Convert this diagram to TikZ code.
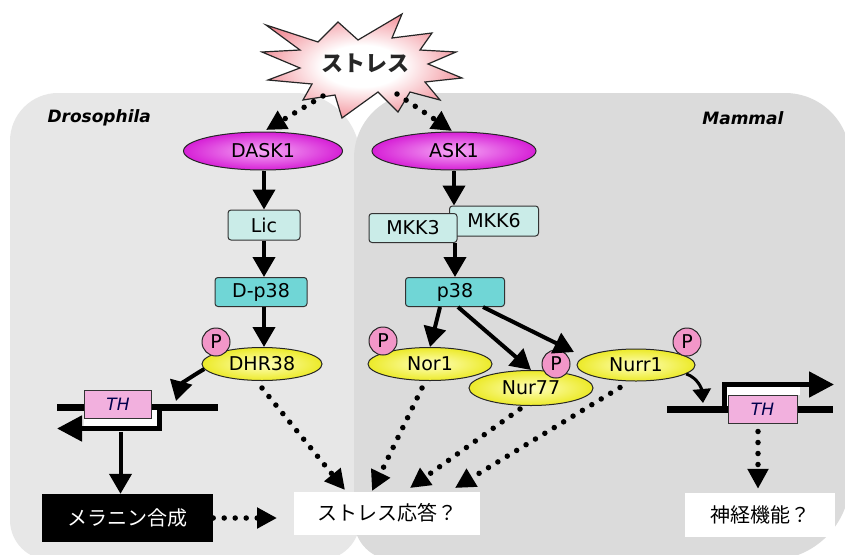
\documentclass[tikz,border=0pt]{standalone}
\usepackage{fontspec}
\setmainfont{DejaVu Sans}
\newfontfamily\cjk{Noto Sans CJK JP}
\usetikzlibrary{arrows.meta,shapes.geometric}
\definecolor{lpanel}{RGB}{231,231,231}
\definecolor{rpanel}{RGB}{219,219,219}
\definecolor{magout}{RGB}{214,32,214}
\definecolor{magin}{RGB}{246,170,246}
\definecolor{yelout}{RGB}{236,234,40}
\definecolor{yelin}{RGB}{255,255,190}
\definecolor{cyanlight}{RGB}{202,236,232}
\definecolor{cyandark}{RGB}{112,214,214}
\definecolor{pinkP}{RGB}{242,150,200}
\definecolor{pinkTH}{RGB}{242,176,222}
\definecolor{starpink}{RGB}{244,160,168}
\definecolor{starred}{RGB}{226,50,62}
\pgfdeclareradialshading{starshade}{\pgfpoint{0bp}{0bp}}{color(0bp)=(white); color(10bp)=(white); color(24bp)=(starpink); color(42bp)=(starred); color(50bp)=(starred)}
\begin{document}
\begin{tikzpicture}[x=1pt,y=-1pt,
  lab/.style={font=\fontsize{19pt}{22pt}\selectfont},
  ell/.style={ellipse, draw=black!85, line width=1pt, inner sep=0pt, lab},
  magell/.style={ell, inner color=magin, outer color=magout},
  yelell/.style={ell, inner color=yelin, outer color=yelout},
  kbox/.style={rectangle, rounded corners=3pt, draw=black!80, line width=1pt, inner sep=0pt, lab},
  lbox/.style={kbox, fill=cyanlight},
  dbox/.style={kbox, fill=cyandark},
  pcirc/.style={circle, draw=black!85, line width=1pt, fill=pinkP, minimum size=28pt, inner sep=0pt, font=\fontsize{19pt}{20pt}\selectfont},
  thbox/.style={rectangle, draw=black!80, line width=1pt, fill=pinkTH, inner sep=0pt, font=\itshape\fontsize{17pt}{19pt}\selectfont, text=black!70!blue},
  jbox/.style={rectangle, inner sep=0pt, font=\cjk\fontsize{20pt}{24pt}\selectfont},
  sarr/.style={line width=4pt, -{Triangle[length=20pt,width=22pt]}},
  smallarr/.style={line width=3pt, -{Triangle[length=14pt,width=18pt]}},
  darr/.style={line width=5.5pt, line cap=round, dash pattern=on 0pt off 11pt, -{Triangle[length=20pt,width=20pt]}},
  gene/.style={line width=7pt},
  bent/.style={line width=5pt, -{Triangle[length=25pt,width=25pt]}},
  ttl/.style={font=\bfseries\itshape\fontsize{17pt}{20pt}\selectfont},
]
\useasboundingbox (0,0) rectangle (845,554);
\fill[white] (0,0) rectangle (845,554);
\clip (0,0) rectangle (845,554);

% panels
\fill[lpanel] (10,141) arc[start angle=180,end angle=270,radius=48] -- (295,93)
  arc[start angle=270,end angle=360,radius=65] -- (360,520)
  arc[start angle=0,end angle=90,radius=40] -- (50,560)
  arc[start angle=90,end angle=180,radius=40] -- cycle;
\fill[rpanel] (354,158) arc[start angle=180,end angle=270,radius=65] -- (785,93)
  arc[start angle=270,end angle=360,radius=65] -- (850,480)
  arc[start angle=0,end angle=90,radius=80] -- (394,560)
  arc[start angle=90,end angle=180,radius=40] -- cycle;

\node[ttl, anchor=west] (dros) at (44,118) {Drosophila};
\node[ttl, anchor=east] (mam) at (787,118) {Mammal};

% star
\path[draw=black!85, line width=1.2pt, shading=starshade]
  (266,25) -- (318,42) -- (338,22) -- (358,40) -- (402,14) -- (392,38) -- (432,33)
  -- (420,50) -- (456,52) -- (428,64) -- (462,78) -- (425,82) -- (440,100)
  -- (410,92) -- (398,112) -- (378,92) -- (342,118) -- (335,95) -- (303,100)
  -- (312,84) -- (268,80) -- (300,68) -- (262,52) -- (300,50) -- cycle;
\node[font=\cjk\bfseries\fontsize{22pt}{24pt}\selectfont, text=black!85] (stress) at (365,63) {ストレス};
\coordinate (s1) at (323,96);
\coordinate (s2) at (397,94);

% nodes
\node[magell, minimum width=159pt, minimum height=38pt] (dask) at (263,151) {DASK1};
\node[magell, minimum width=164pt, minimum height=38pt] (ask) at (454,151) {ASK1};
\node[lbox, minimum width=72pt, minimum height=30pt] (lic) at (264,225) {Lic};
\node[lbox, minimum width=89pt, minimum height=30pt] (mkk6) at (494,221) {MKK6};
\node[lbox, minimum width=88pt, minimum height=29pt] (mkk3) at (413,228) {MKK3};
\node[dbox, minimum width=92pt, minimum height=29pt] (dp38) at (261,292) {D-p38};
\node[dbox, minimum width=99pt, minimum height=29pt] (p38) at (455,292) {p38};
\node[yelell, minimum width=120pt, minimum height=33pt] (dhr) at (262,364) {DHR38};
\node[yelell, minimum width=124pt, minimum height=33pt] (nor) at (430,364) {Nor1};
\node[yelell, minimum width=118pt, minimum height=32pt] (nurr) at (636,365) {Nurr1};
\node[yelell, minimum width=124pt, minimum height=35pt] (nur) at (531,388) {Nur77};
\node[pcirc] (pd) at (216,342) {P};
\node[pcirc] (pn) at (383,341) {P};
\node[pcirc] (p77) at (556,364) {P};
\node[pcirc] (pr) at (687,342) {P};

% genes
\draw[gene] (57,407) -- (218,407);
\fill[white] (84,418) rectangle (157,426);
\fill[white] (152,410) rectangle (157,418);
\node[thbox, minimum width=67pt, minimum height=28pt] (thl) at (118,404) {TH};
\draw[bent] (159.5,410) -- (159.5,428.5) -- (57,428.5);

\draw[gene] (667,409.5) -- (833,409.5);
\fill[white] (727,387) rectangle (800,395);
\fill[white] (727,387) rectangle (731,406);
\node[thbox, minimum width=69pt, minimum height=28pt] (thr) at (762.5,409) {TH};
\draw[bent] (724.5,410) -- (724.5,384.5) -- (834,384.5);

% bottom boxes
\node[jbox, fill=black, text=white, minimum width=171pt, minimum height=48pt] (mel) at (127.5,518) {メラニン合成};
\node[jbox, fill=white, minimum width=186pt, minimum height=43pt] (sr) at (387,513) {ストレス応答？};
\node[jbox, fill=white, minimum width=150pt, minimum height=44pt] (nf) at (760,515) {神経機能？};

% coordinates for free ends
\coordinate (dtip) at (266,130);
\coordinate (atip) at (452,131);
\coordinate (nurrtip) at (574,352);
\coordinate (dhrtip) at (176,401);
\coordinate (thrtip) at (703,403);
\coordinate (srin) at (277,518);
\coordinate (t1) at (345,490);
\coordinate (t2) at (372,491);
\coordinate (t3) at (410,488);
\coordinate (t4) at (455,488);

% solid arrows
\draw[sarr] (dask.south -| lic.south) -- (lic.north);
\draw[sarr] (lic.south) -- (lic.south |- dp38.north);
\draw[sarr] (dp38.south -| lic.south) -- (dhr.north -| lic.south);
\draw[sarr] (ask.south) -- (ask.south |- mkk6.north);
\draw[sarr] (p38.north |- mkk3.south) -- (p38.north);
\draw[sarr] ([xshift=-15pt]p38.south) -- (nor.north);
\draw[sarr] ([xshift=3pt]p38.south) -- (nur.north);
\draw[sarr] ([xshift=28pt]p38.south) -- (nurrtip);
\draw[sarr] (dhr.185) to[out=210,in=75] (dhrtip);
\draw[smallarr] (nurr.-10) to[out=-20,in=95] (thrtip);
\draw[sarr] ([xshift=-7pt,yshift=62pt]mel.north) -- ([xshift=-7pt]mel.north);

% dotted arrows
\draw[darr] (s1) -- (dtip);
\draw[darr] (s2) -- (atip);
\draw[darr] (mel.east) -- (srin);
\draw[darr] ([yshift=-7pt]dhr.south) -- (t1);
\draw[darr] ([xshift=-8pt,yshift=-7pt]nor.south) -- (t2);
\draw[darr] ([xshift=-11pt,yshift=-3pt]nur.south) -- (t3);
\draw[darr] ([xshift=-16pt,yshift=-6pt]nurr.south) -- (t4);
\draw[darr] ([xshift=-4.5pt,yshift=-8pt]thr.south) -- ([xshift=-2pt,yshift=4pt]nf.north);
\end{tikzpicture}
\end{document}
